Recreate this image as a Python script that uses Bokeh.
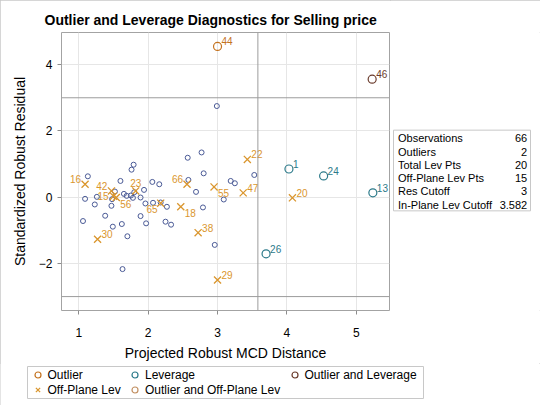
from bokeh.plotting import figure
from bokeh.models import (ColumnDataSource, Span, Legend, LegendItem, FixedTicker)
from bokeh.layouts import column, row
from bokeh.embed import file_html
from bokeh.resources import INLINE
from bokeh.core.properties import value

# ---------------- data ----------------
title_text = "Outlier and Leverage Diagnostics for Selling price"
x_label = "Projected Robust MCD Distance"
y_label = "Standardized Robust Residual"
x_ticks = [1, 2, 3, 4, 5]
y_ticks = [-2, 0, 2, 4]
res_cutoff = 3.0
lev_cutoff = 3.582

# regular (unlabelled) observations
reg_x = [1.13, 1.09, 1.06, 1.23, 1.26, 1.38, 1.47, 1.49, 1.48, 1.52,
         1.60, 1.62, 1.65, 1.69, 1.70, 1.63, 1.75, 1.78, 1.76, 1.79,
         1.89, 1.94, 1.89, 1.96, 1.97, 2.06, 2.07, 2.16, 2.18, 2.25,
         2.27, 2.33, 2.57, 2.58, 2.69, 2.77, 2.80, 2.79, 2.96, 3.19,
         3.25, 3.09, 3.53, 2.99, 1.80]
reg_y = [0.63, -0.05, -0.72, -0.22, 0.01, -0.56, -0.26, -0.89, -0.06, 0.17,
         0.49, -0.81, 0.10, 0.04, -1.18, -2.17, 0.05, -0.02, 0.83, 0.98,
         -0.01, 0.22, -0.57, -0.19, -0.79, 0.46, -0.17, 0.39, -0.16, -0.74,
         -0.29, -0.83, 1.19, 0.52, 0.16, 1.35, 0.72, -0.31, -1.44, 0.49,
         0.42, -0.07, 0.67, 2.75, 0.15]

# labelled observations
obs_id = ["44", "46", "1", "24", "13", "26", "20", "22", "47", "55", "29",
          "38", "18", "66", "65", "23", "56", "15", "42", "16", "30"]
obs_x = [3.00, 5.23, 4.03, 4.53, 5.24, 3.70, 4.08, 3.43, 3.37, 2.95, 3.00,
         2.72, 2.47, 2.56, 2.18, 1.82, 1.54, 1.50, 1.47, 1.09, 1.27]
obs_y = [4.55, 3.56, 0.85, 0.64, 0.13, -1.71, -0.02, 1.14, 0.13, 0.31, -2.50,
         -1.07, -0.29, 0.39, -0.18, 0.19, -0.01, 0.03, 0.19, 0.39, -1.27]
obs_kind = ["Outlier", "Outlier and Leverage", "Leverage", "Leverage",
            "Leverage", "Leverage"] + ["Off-Plane Lev"] * 15
obs_labelpos = ["ur", "ur", "ur", "ur", "ur", "ur", "ur", "ur", "ur", "lr", "ur",
                "ur", "lr", "ul", "ll", "t", "lr", "l", "ul", "ul", "ur"]

stat_names = ["Observations", "Outliers", "Total Lev Pts", "Off-Plane Lev Pts",
              "Res Cutoff", "In-Plane Lev Cutoff"]
stat_values = ["66", "2", "20", "15", "3", "3.582"]

legend_cols = [["Outlier", "Off-Plane Lev"],
               ["Leverage", "Outlier and Off-Plane Lev"],
               ["Outlier and Leverage"]]

# ---------------- style / layout (page pixels) ----------------
FONT = "Liberation Sans"
REG_COLOR = "#4A5A96"
BOX_COLOR = "#C8C8C8"
kind_style = {
    "Outlier": ("circle", "#C4721E"),
    "Leverage": ("circle", "#2C7A8A"),
    "Outlier and Leverage": ("circle", "#6A3B2C"),
    "Off-Plane Lev": ("x", "#DA962E"),
    "Outlier and Off-Plane Lev": ("circle", "#C29062"),
}
pos_map = {"ur": ("left", 4, -5), "ul": ("right", -4, -5),
           "lr": ("left", 4, 6), "ll": ("right", -3, 6),
           "t": ("center", 0, -8), "l": ("right", -5, 0)}

TOTAL_W = 540
MAIN_W, MAIN_H = 390, 363
ML, MR, MT, MB = 61, 1, 32, 52
FR_TOP, FR_BOT = MT, MAIN_H - MB          # frame rows in page px
TAB_W = TOTAL_W - MAIN_W
LEG_H = 405 - MAIN_H


def add_marker(fig, kind, src, size=8):
    marker, color = kind_style[kind]
    if marker == "x":
        return fig.scatter("x", "y", source=src, marker="x", size=size + 2,
                           line_color=color, line_width=1.3)
    return fig.scatter("x", "y", source=src, marker="circle", size=size,
                       fill_color=None, line_color=color, line_width=1.2)


# ---------------- main plot ----------------
p = figure(width=MAIN_W, height=MAIN_H, x_range=(0.75, 5.48), y_range=(-3.42, 4.97),
           title=title_text, output_backend="svg", toolbar_location=None,
           min_border_left=ML, min_border_right=MR, min_border_top=MT,
           min_border_bottom=MB, background_fill_color="white",
           border_fill_color="white")
p.title.align = "left"
p.title.offset = -17
p.title.standoff = 9
p.title.text_font = FONT
p.title.text_font_size = "14px"
p.title.text_font_style = "bold"
p.title.text_color = "black"
p.outline_line_color = "#A3A3A3"

for ax, ticks in ((p.xaxis, x_ticks), (p.yaxis, y_ticks)):
    ax.ticker = FixedTicker(ticks=ticks)
    ax.minor_tick_line_color = None
    ax.major_tick_in = 0
    ax.major_tick_out = 4
    ax.major_tick_line_color = "#8C8C8C"
    ax.axis_line_color = None
    ax.major_label_text_font = FONT
    ax.major_label_text_font_size = "12px"
    ax.major_label_text_color = "black"
    ax.axis_label_text_font = FONT
    ax.axis_label_text_font_size = "14px"
    ax.axis_label_text_font_style = "normal"
    ax.axis_label_text_color = "black"
p.xaxis.axis_label = x_label
p.yaxis.axis_label = y_label
p.xaxis.major_label_standoff = 13
p.xaxis.axis_label_standoff = 5
p.yaxis.major_label_standoff = 5
p.yaxis.axis_label_standoff = 8
p.grid.grid_line_color = "#E6E6E6"

for loc, dim in ((res_cutoff, "width"), (-res_cutoff, "width"), (lev_cutoff, "height")):
    p.add_layout(Span(location=loc, dimension=dim, line_color="#9C9C9C", line_width=1))

p.scatter(reg_x, reg_y, marker="circle", size=5, fill_color=None,
          line_color=REG_COLOR, line_width=1)

for kind in kind_style:
    idx = [i for i, k in enumerate(obs_kind) if k == kind]
    src = ColumnDataSource(dict(x=[obs_x[i] for i in idx], y=[obs_y[i] for i in idx]))
    add_marker(p, kind, src)

lab_src = ColumnDataSource(dict(
    x=obs_x, y=obs_y, text=obs_id,
    color=[kind_style[k][1] for k in obs_kind],
    align=[pos_map[c][0] for c in obs_labelpos],
    xo=[pos_map[c][1] for c in obs_labelpos],
    yo=[pos_map[c][2] for c in obs_labelpos]))
p.text("x", "y", text="text", source=lab_src, x_offset="xo", y_offset="yo",
       text_align="align", text_baseline="middle", text_color="color",
       text_font=value(FONT), text_font_size="10px")

# ---------------- statistics table (data units = page px) ----------------
t = figure(width=TAB_W, height=MAIN_H, x_range=(MAIN_W, TOTAL_W),
           y_range=(FR_BOT, FR_TOP), output_backend="svg", toolbar_location=None,
           x_axis_location=None, y_axis_location=None, min_border_left=0,
           min_border_right=0, min_border_top=MT, min_border_bottom=MB,
           outline_line_color=None)
t.grid.visible = False
t.quad(left=[393], right=[530], top=[130], bottom=[211], fill_color=None,
       line_color=BOX_COLOR, line_width=1)
row_y = [138.3 + 13.28 * k for k in range(len(stat_names))]
t.text(x=[397.5] * len(stat_names), y=row_y, text=stat_names, text_align="left",
       text_baseline="middle", text_font=value(FONT), text_font_size="11px",
       text_color="black")
t.text(x=[526.7] * len(stat_values), y=row_y, text=stat_values, text_align="right",
       text_baseline="middle", text_font=value(FONT), text_font_size="11px",
       text_color="black")

# ---------------- legend strip (data units = page px) ----------------
lg = figure(width=TOTAL_W, height=LEG_H, x_range=(0, TOTAL_W), y_range=(405, MAIN_H),
            output_backend="svg", toolbar_location=None, x_axis_location=None,
            y_axis_location=None, min_border=0, outline_line_color=None)
lg.grid.visible = False
lg.quad(left=[27], right=[423], top=[366], bottom=[398], fill_color=None,
        line_color=BOX_COLOR, line_width=1)
nan = float("nan")
dummies = {k: add_marker(lg, k, ColumnDataSource(dict(x=[nan], y=[nan])))
           for k in kind_style}
col_x = [29.5, 127, 286.5]
for cx, names in zip(col_x, legend_cols):
    items = [LegendItem(label=n, renderers=[dummies[n]]) for n in names]
    bottom = 8 + 15 * (2 - len(names))
    leg = Legend(items=items, location=(cx, bottom), orientation="vertical",
                 border_line_color=None, background_fill_alpha=0, padding=0,
                 margin=0, spacing=0, glyph_width=15, glyph_height=15,
                 label_height=15, label_width=10, label_standoff=3,
                 label_text_font=FONT, label_text_font_size="12px",
                 label_text_color="black")
    lg.add_layout(leg)

layout = column(row(p, t), lg,
                styles={"outline": "1px solid #C8C8C8", "outline-offset": "-1px"})
open("out.html", "w").write(file_html(layout, INLINE))
